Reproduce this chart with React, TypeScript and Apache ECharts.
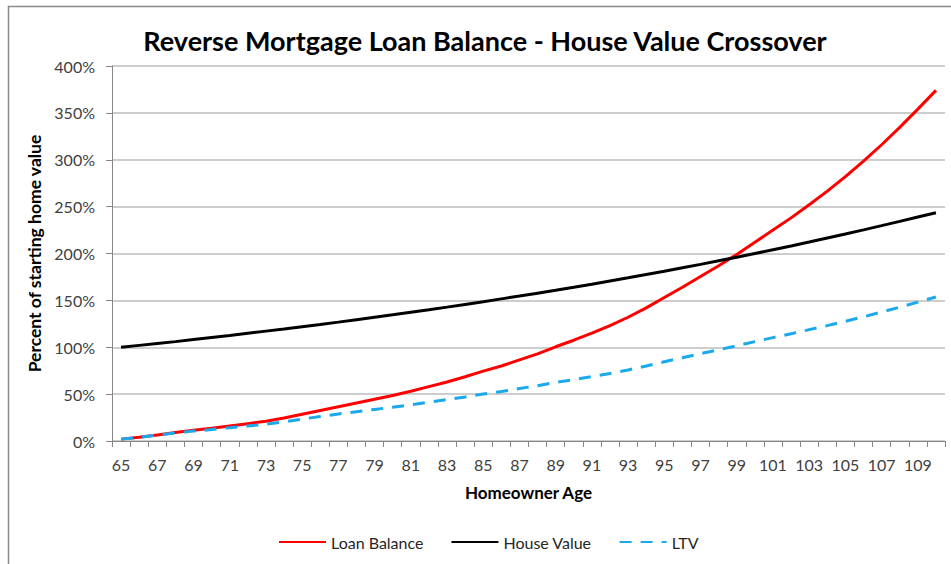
import React, { useEffect, useRef } from "react";
import * as echarts from "echarts";

const ages: string[] = [
  "65","66","67","68","69","70","71","72","73","74","75","76","77","78","79","80",
  "81","82","83","84","85","86","87","88","89","90","91","92","93","94","95","96",
  "97","98","99","100","101","102","103","104","105","106","107","108","109","110",
];

const loanBalance: number[] = [
  2, 4, 6.5, 9, 11.5, 13.5, 16, 18.5, 21, 24.5, 28.5, 32.5, 36.5, 40.5, 44.5, 48.5,
  53, 58, 63, 68.5, 74.5, 80, 86.5, 93, 100.5, 107.5, 115, 123, 132, 142, 153, 164,
  175.5, 187, 199, 212, 225, 238, 252, 266.5, 282, 298.5, 316, 334.5, 354, 374,
];

const houseValue: number[] = [
  100, 102, 104, 106, 108.2, 110.4, 112.6, 114.9, 117.2, 119.5, 121.9, 124.3, 126.8, 129.4, 132, 134.6,
  137.3, 140, 142.8, 145.7, 148.6, 151.6, 154.6, 157.7, 160.8, 164, 167.3, 170.7, 174.1, 177.6, 181.1, 184.7,
  188.4, 192.2, 196, 200, 204, 208, 212.2, 216.5, 220.8, 225.2, 229.7, 234.3, 239, 243.5,
];

const ltv: number[] = [
  2, 3.9, 6.3, 8.5, 10.6, 12.2, 14.2, 16.1, 17.9, 20.5, 23.4, 26.1, 28.8, 31.3, 33.7, 36,
  38.6, 41.4, 44.1, 47, 50.1, 52.8, 55.9, 59, 62.5, 65.5, 68.7, 72.1, 75.8, 80, 84.5, 88.8,
  93.2, 97.3, 101.5, 106, 110.3, 114.4, 118.8, 123.1, 127.7, 132.5, 137.6, 142.8, 148.1, 153.6,
];

const seriesNames = ["Loan Balance", "House Value", "LTV"];
const titleText = "Reverse Mortgage Loan Balance - House Value Crossover";
const xName = "Homeowner Age";
const yName = "Percent of starting home value";

const FONT = "Lato, 'Noto Sans', sans-serif";

export default function App() {
  const ref = useRef<HTMLDivElement>(null);
  useEffect(() => {
    document.body.style.margin = "0";
    if (!ref.current) return;
    const chart = echarts.init(ref.current, undefined, { renderer: "svg" });
    chart.setOption({
      animation: false,
      backgroundColor: "#ffffff",
      textStyle: { fontFamily: FONT },
      title: {
        text: titleText,
        left: 480,
        top: 22,
        textAlign: "center",
        textStyle: { fontFamily: FONT, fontSize: 27, fontWeight: "bold", color: "#000000" },
      },
      graphic: [
        {
          type: "rect",
          shape: { x: 8.5, y: 6.5, width: 1000, height: 700 },
          style: { fill: "none", stroke: "#8a8a8a", lineWidth: 1.5 },
          silent: true,
          z: -1,
        },
      ],
      grid: { left: 112, right: 6, top: 66, bottom: 123, containLabel: false },
      legend: {
        data: seriesNames,
        left: 278,
        top: 534,
        padding: 0,
        itemWidth: 47,
        itemHeight: 18,
        itemGap: 27,
        itemStyle: { opacity: 0 },
        textStyle: { fontFamily: FONT, fontSize: 16, color: "#262626" },
      },
      xAxis: {
        type: "category",
        data: ages,
        boundaryGap: true,
        name: xName,
        nameLocation: "middle",
        nameGap: 43,
        nameTextStyle: { fontFamily: FONT, fontSize: 17, fontWeight: "bold", color: "#000000" },
        axisLine: { lineStyle: { color: "#868686", width: 1 } },
        axisTick: { show: true, interval: 0, length: 6, lineStyle: { color: "#868686" } },
        axisLabel: { interval: 1, fontFamily: FONT, fontSize: 16, color: "#404040", margin: 15 },
        splitLine: { show: false },
      },
      yAxis: {
        type: "value",
        min: 0,
        max: 400,
        interval: 50,
        name: yName,
        nameLocation: "middle",
        nameGap: 61,
        nameTextStyle: { fontFamily: FONT, fontSize: 17.5, fontWeight: "bold", color: "#000000" },
        axisLine: { show: true, lineStyle: { color: "#868686", width: 1 } },
        axisTick: { show: true, length: 6, lineStyle: { color: "#868686" } },
        axisLabel: { formatter: "{value}%", fontFamily: FONT, fontSize: 16, color: "#404040", margin: 17 },
        splitLine: { show: true, lineStyle: { color: "#bdbdbd", width: 1.5 } },
      },
      series: [
        {
          name: seriesNames[0],
          type: "line",
          data: loanBalance,
          symbol: "none",
          lineStyle: { color: "#ff0000", width: 3 },
          itemStyle: { color: "#ff0000" },
        },
        {
          name: seriesNames[1],
          type: "line",
          data: houseValue,
          symbol: "none",
          lineStyle: { color: "#000000", width: 3 },
          itemStyle: { color: "#000000" },
        },
        {
          name: seriesNames[2],
          type: "line",
          data: ltv,
          symbol: "none",
          lineStyle: { color: "#1aa9ec", width: 3, type: [12, 9] },
          itemStyle: { color: "#1aa9ec" },
        },
      ],
    });
    return () => chart.dispose();
  }, []);
  return <div ref={ref} style={{ width: 951, height: 564 }} />;
}
